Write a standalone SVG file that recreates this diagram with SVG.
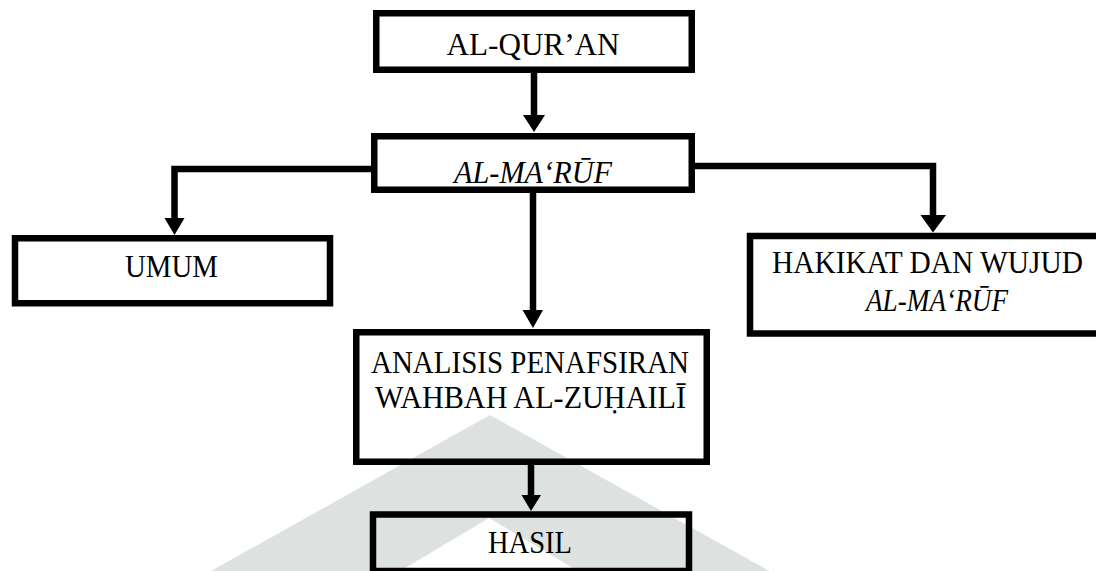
<svg xmlns="http://www.w3.org/2000/svg" width="1096" height="571" viewBox="0 0 1096 571">
<style>
.box{fill:none;stroke:#000;stroke-width:6.5;stroke-linejoin:miter}
.conn{fill:none;stroke:#000;stroke-width:6.5;stroke-linejoin:miter;stroke-linecap:butt}
.head{fill:#000}
.t{font-family:'Liberation Serif','Times New Roman',serif;font-size:32px;text-anchor:middle;fill:#000}
.i{font-style:italic}
</style>
<rect width="1096" height="571" fill="#fff"/>
<g id="watermark">
<polygon points="490,415 1000,700 -20,700" fill="#dde1e0"/>
<polygon points="489,518 660,620 318,620" fill="#fff"/>
</g>
<g id="connectors">
<line class="conn" x1="534" y1="73" x2="534" y2="116"/>
<polygon class="head" points="523,115 545,115 534,132"/>
<polyline class="conn" points="371,169 174.5,169 174.5,219"/>
<polygon class="head" points="164.5,218 184.5,218 174.5,235"/>
<polyline class="conn" points="695,166 933,166 933,216"/>
<polygon class="head" points="920.5,215 946,215 933,232.5"/>
<line class="conn" x1="533" y1="193" x2="533" y2="311"/>
<polygon class="head" points="522.5,310 543,310 533,328"/>
<line class="conn" x1="531" y1="465" x2="531" y2="496"/>
<polygon class="head" points="521.5,495 541,495 531,511"/>
</g>
<g id="n-alquran">
<rect class="box" x="376.25" y="13.25" width="315.5" height="56.5"/>
<text class="t" x="533" y="55" textLength="173" lengthAdjust="spacingAndGlyphs">AL-QUR’AN</text>
</g>
<g id="n-almaruf">
<rect class="box" x="374.25" y="136.25" width="317.5" height="53.5"/>
<text class="t i" x="533" y="183" textLength="158" lengthAdjust="spacingAndGlyphs">AL-MA‘RŪF</text>
</g>
<g id="n-umum">
<rect class="box" x="15" y="238.25" width="315" height="65"/>
<text class="t" x="171.5" y="277" textLength="93" lengthAdjust="spacingAndGlyphs">UMUM</text>
</g>
<g id="n-hakikat">
<rect class="box" x="750" y="236" width="360" height="97.5"/>
<text class="t" x="927.5" y="273" textLength="311" lengthAdjust="spacingAndGlyphs">HAKIKAT DAN WUJUD</text>
<text class="t i" x="937" y="311" textLength="142" lengthAdjust="spacingAndGlyphs">AL-MA‘RŪF</text>
</g>
<g id="n-analisis">
<rect class="box" x="356.25" y="332.25" width="350.5" height="129.5"/>
<text class="t" x="530" y="373" textLength="318" lengthAdjust="spacingAndGlyphs">ANALISIS PENAFSIRAN</text>
<text class="t" x="530.5" y="408" textLength="311" lengthAdjust="spacingAndGlyphs">WAHBAH AL-ZUḤAILĪ</text>
</g>
<g id="n-hasil">
<rect class="box" x="373" y="514.5" width="316" height="56.5"/>
<text class="t" x="530" y="553" textLength="84" lengthAdjust="spacingAndGlyphs">HASIL</text>
</g>
</svg>
